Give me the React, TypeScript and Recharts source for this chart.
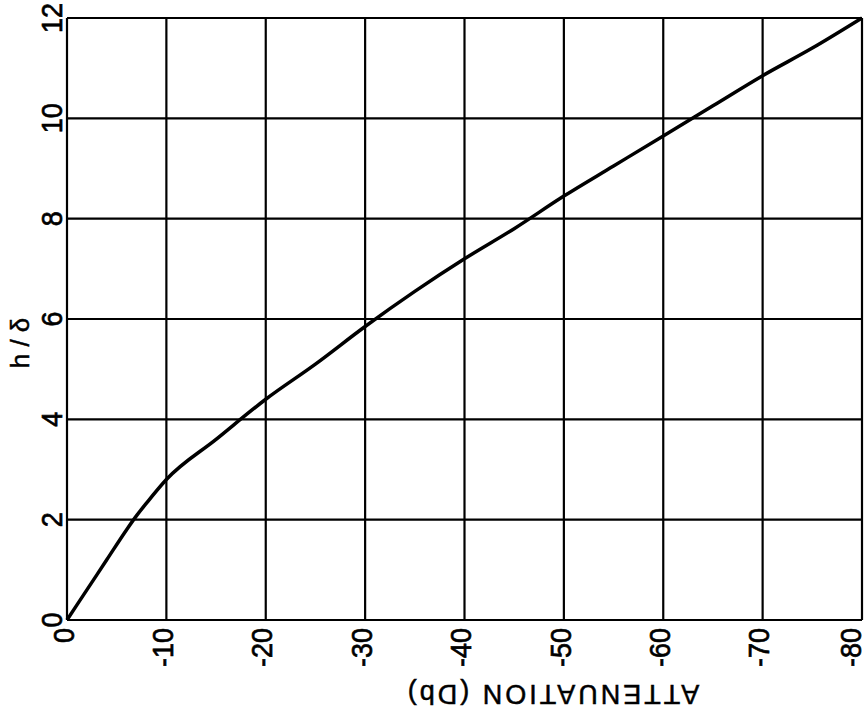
import { CartesianGrid, Line, LineChart, XAxis, YAxis } from "recharts";

// attenuation (dB) and h/δ
const attenuation = [0, -2, -4, -6, -7, -8, -10, -15, -20, -25, -30, -35, -40, -45, -50, -55, -60, -65, -70, -75, -80];
const hOverDelta = [0, 0.6, 1.2, 1.8, 2.08, 2.33, 2.8, 3.6, 4.4, 5.1, 5.85, 6.55, 7.2, 7.8, 8.45, 9.05, 9.65, 10.25, 10.85, 11.4, 12];

const xTicks = [0, -10, -20, -30, -40, -50, -60, -70, -80];
const yTicks = [0, 2, 4, 6, 8, 10, 12];

const data = attenuation.map((att, i) => ({ att, h: hOverDelta[i] }));

const FONT = "'Liberation Sans', Arial, sans-serif";

const XTick = (props: any) => {
  const { x, y, payload } = props;
  // keep the last label inside the page edge
  const tx = Math.min(x, 854);
  return (
    <text
      transform={`translate(${tx},${y + 8}) rotate(-90) scale(1,1.12)`}
      textAnchor="end"
      dy={6}
      fontSize={27}
      fontFamily={FONT}
      fill="#000"
      stroke="#000"
      strokeWidth={0.6}
    >
      {payload.value}
    </text>
  );
};

const YTick = (props: any) => {
  const { y, payload } = props;
  return (
    <text
      transform={`translate(62,${y}) rotate(-90) scale(1,1.12)`}
      textAnchor="middle"
      fontSize={27}
      fontFamily={FONT}
      fill="#000"
      stroke="#000"
      strokeWidth={0.6}
    >
      {payload.value}
    </text>
  );
};

export default function App() {
  return (
    <div style={{ position: "absolute", left: 0, top: 0, background: "#fff" }}>
      <LineChart
        width={868}
        height={718}
        data={data}
        margin={{ top: 18, right: 6, left: 0, bottom: 0 }}
      >
        <CartesianGrid stroke="#000" strokeWidth={2.2} strokeOpacity={1} />
        <XAxis
          type="number"
          dataKey="att"
          domain={[-80, 0]}
          reversed
          ticks={xTicks}
          interval={0}
          height={98}
          axisLine={false}
          tickLine={false}
          tickSize={0}
          tickMargin={0}
          tick={<XTick />}
        />
        <YAxis
          type="number"
          domain={[0, 12]}
          ticks={yTicks}
          interval={0}
          width={67}
          axisLine={false}
          tickLine={false}
          tickSize={0}
          tickMargin={0}
          tick={<YTick />}
        />
        <Line
          type="monotone"
          dataKey="h"
          stroke="#000"
          strokeWidth={3.5}
          dot={false}
          isAnimationActive={false}
        />
        <text
          transform="translate(20,343) rotate(-90)"
          textAnchor="middle"
          dominantBaseline="central"
          fontSize={26}
          fontFamily={FONT}
          fill="#000"
          stroke="#000"
          strokeWidth={0.5}
        >
          h / δ
        </text>
        <text
          transform="translate(552,694) rotate(180)"
          textAnchor="middle"
          dominantBaseline="central"
          fontSize={27}
          letterSpacing={3}
          fontFamily={FONT}
          fill="#000"
          stroke="#000"
          strokeWidth={0.5}
        >
          ATTENUATION (Db)
        </text>
      </LineChart>
    </div>
  );
}
